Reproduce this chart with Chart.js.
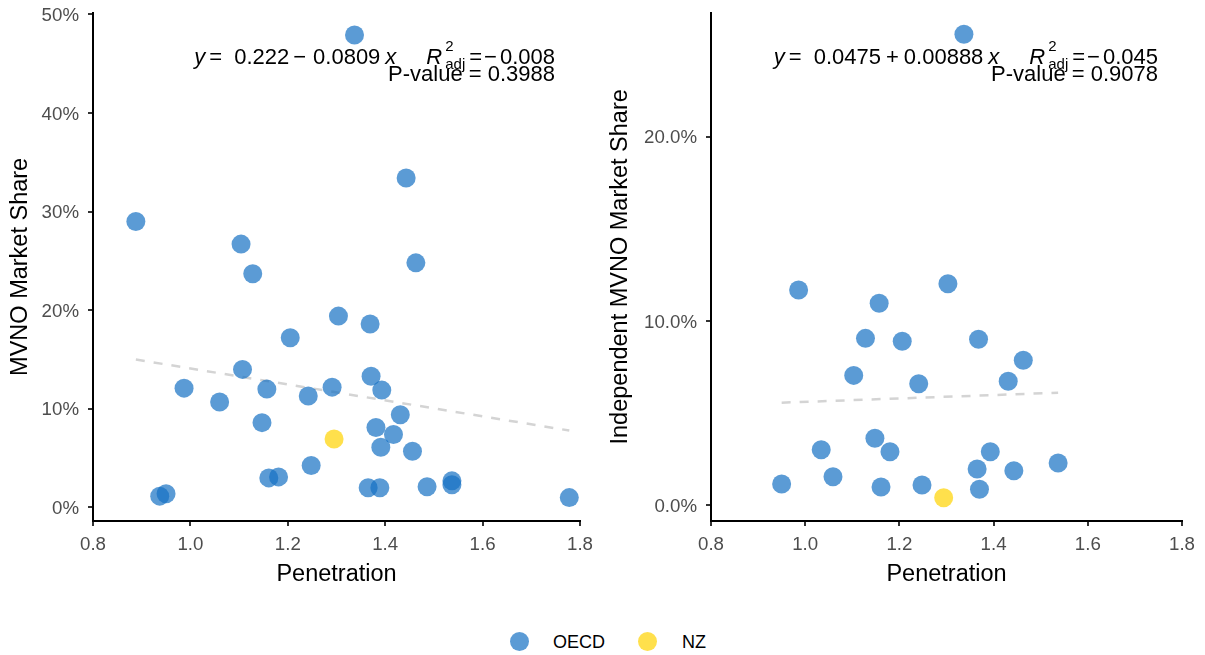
<!DOCTYPE html>
<html><head><meta charset="utf-8">
<script src="https://cdn.jsdelivr.net/npm/chart.js@4.4.1/dist/chart.umd.min.js"></script>
<style>
html,body{margin:0;padding:0;background:#fff;}
#wrap{position:relative;width:1205px;height:655px;overflow:hidden;font-family:"Liberation Sans",Arial,sans-serif;background:#fff;}
canvas{position:absolute;top:0;}
#c1{left:0;} #c2{left:600px;}
.lg-dot{position:absolute;width:19px;height:19px;border-radius:50%;}
.lg-txt{position:absolute;font-size:18px;color:#000;line-height:20px;white-space:nowrap;}
</style></head>
<body>
<div id="wrap">
  <canvas id="c1" width="600" height="600"></canvas>
  <canvas id="c2" width="605" height="600"></canvas>
  <div class="lg-dot" style="left:509.5px;top:631.5px;background:rgba(21,112,195,0.7);"></div>
  <div class="lg-txt" style="left:553px;top:632px;">OECD</div>
  <div class="lg-dot" style="left:637.5px;top:631.5px;background:rgba(255,211,0,0.7);"></div>
  <div class="lg-txt" style="left:682px;top:632px;">NZ</div>
</div>
<script>
// ---------- DATA ----------
const seriesNames = ['OECD', 'NZ'];

// Left panel: MVNO market share vs penetration
const leftOecdX = [0.888,0.937,0.950,0.987,1.060,1.104,1.107,1.128,1.147,1.157,1.161,1.181,1.205,1.242,1.248,1.291,1.304,1.337,1.365,1.369,1.371,1.381,1.389,1.391,1.393,1.417,1.431,1.443,1.456,1.463,1.486,1.537,1.537,1.778];
const leftOecdY = [0.290,0.0115,0.014,0.121,0.107,0.267,0.140,0.237,0.086,0.120,0.030,0.031,0.172,0.113,0.0425,0.122,0.194,0.479,0.020,0.186,0.133,0.081,0.020,0.061,0.119,0.074,0.094,0.334,0.057,0.248,0.021,0.027,0.023,0.0100];
const leftNzX = [1.295];
const leftNzY = [0.0695];
const leftTrendX = [0.888, 1.778];
const leftTrendY = [0.150, 0.078];

// Right panel: independent MVNO market share vs penetration
const rightOecdX = [0.950,0.986,1.034,1.059,1.103,1.128,1.148,1.157,1.161,1.180,1.206,1.241,1.248,1.303,1.337,1.365,1.368,1.370,1.393,1.431,1.443,1.463,1.537];
const rightOecdY = [0.0116,0.1168,0.0302,0.0155,0.0705,0.0906,0.0364,0.1096,0.0099,0.0291,0.0890,0.066,0.011,0.1202,0.2556,0.0197,0.0901,0.0087,0.0291,0.0673,0.0188,0.0787,0.023];
const rightNzX = [1.294];
const rightNzY = [0.0041];
const rightTrendX = [0.950, 1.537];
const rightTrendY = [0.0557, 0.0611];

// Ticks
const xTicks = [0.8, 1.0, 1.2, 1.4, 1.6, 1.8];
const xTickLabels = ['0.8', '1.0', '1.2', '1.4', '1.6', '1.8'];
const leftYTicks = [0, 0.1, 0.2, 0.3, 0.4, 0.5];
const leftYTickLabels = ['0%', '10%', '20%', '30%', '40%', '50%'];
const rightYTicks = [0, 0.1, 0.2];
const rightYTickLabels = ['0.0%', '10.0%', '20.0%'];

// Annotation texts
const leftEq = {intercept:'0.222', sign:'\u2212', slope:'0.0809', r2:'\u22120.008', p:'P-value = 0.3988'};
const rightEq = {intercept:'0.0475', sign:'+', slope:'0.00888', r2:'\u22120.045', p:'P-value = 0.9078'};

// ---------- STYLE ----------
const FONT = '"Liberation Sans", Arial, Helvetica, sans-serif';
const BLUE = 'rgba(21,112,195,0.7)';
const YELLOW = 'rgba(255,211,0,0.7)';

const eqPlugin = {
  id: 'eqText',
  afterDatasetsDraw(chart, args, o) {
    if (!o || !o.eq) return;
    const ctx = chart.ctx;
    const e = o.eq;
    ctx.save();
    ctx.fillStyle = '#000';
    ctx.textBaseline = 'alphabetic';
    ctx.textAlign = 'left';
    const N = '22px ' + FONT, I = 'italic 22px ' + FONT, S = '15px ' + FONT;
    const plus = e.sign === '+';
    const pieces = [
      {t:'y', f:I}, {g:4}, {t:'=', f:N}, {g:12}, {t:e.intercept, f:N},
      {g:plus ? 5 : 4}, {t:e.sign, f:N}, {g:plus ? 5 : 7},
      {t:e.slope, f:N}, {g:5}, {t:'x', f:I}, {g:30}, {t:'R', f:I}, {g:3},
      {ss:['2','adj']}, {g:4}, {t:'=', f:N}, {g:2}, {t:e.r2.charAt(0), f:N}, {g:3}, {t:e.r2.slice(1), f:N}
    ];
    let total = 0;
    pieces.forEach(p => {
      if (p.g !== undefined) { p.w = p.g; }
      else if (p.ss) { ctx.font = S; p.w = Math.max(ctx.measureText(p.ss[0]).width, ctx.measureText(p.ss[1]).width); }
      else { ctx.font = p.f; p.w = ctx.measureText(p.t).width; }
      total += p.w;
    });
    let x = o.right - total;
    const base = 63.5;
    pieces.forEach(p => {
      if (p.ss) {
        ctx.font = S;
        ctx.fillText(p.ss[0], x, 50.5);
        ctx.fillText(p.ss[1], x, 68.5);
      } else if (p.t !== undefined) {
        ctx.font = p.f;
        ctx.fillText(p.t, x, base);
      }
      x += p.w;
    });
    ctx.font = N;
    ctx.textAlign = 'right';
    ctx.fillText(e.p, o.right, 80.5);
    ctx.restore();
  }
};

function pts(xs, ys) { return xs.map((x, i) => ({x: x, y: ys[i]})); }

function makeChart(id, cfg) {
  return new Chart(document.getElementById(id), {
    type: 'scatter',
    data: {
      datasets: [
        {type:'line', label:'trend', data: pts(cfg.trendX, cfg.trendY), borderColor:'#d4d4d4', borderWidth:2.5,
         borderDash:[9,9], pointRadius:0, fill:false, order:3, clip:false},
        {label: seriesNames[0], data: pts(cfg.oecdX, cfg.oecdY), backgroundColor: BLUE, borderWidth:0,
         pointRadius:9.5, pointHoverRadius:9.5, order:2, clip:false},
        {label: seriesNames[1], data: pts(cfg.nzX, cfg.nzY), backgroundColor: YELLOW, borderWidth:0,
         pointRadius:9.5, pointHoverRadius:9.5, order:1, clip:false}
      ]
    },
    options: {
      responsive:false, animation:false, events:[],
      layout: {padding: {top:12.7, right: cfg.padRight, left:0, bottom:0}},
      plugins: {legend:{display:false}, tooltip:{enabled:false}, eqText: {eq: cfg.eq, right: cfg.eqRight}},
      scales: {
        x: {
          type:'linear', position:'bottom', min:0.8, max:1.8,
          afterBuildTicks: s => { s.ticks = xTicks.map(v => ({value:v})); },
          afterFit: s => { s.height = 79; s.paddingLeft = 0; s.paddingRight = 0; },
          ticks: {callback: (v, i) => xTickLabels[i], color:'#4d4d4d', font:{family:FONT, size:18.7}, padding:8, maxRotation:0, autoSkip:false},
          grid: {drawOnChartArea:false, drawTicks:true, tickLength:5, color:'#333', lineWidth:2},
          border: {display:true, color:'#000', width:2},
          title: {display:true, text:'Penetration', color:'#000', font:{family:FONT, size:23.5}, padding:{top:0, bottom:11.7}}
        },
        y: {
          type:'linear', position:'left', min: cfg.yMin, max: cfg.yMax,
          afterBuildTicks: s => { s.ticks = cfg.yTicks.map(v => ({value:v})); },
          afterFit: s => { s.width = cfg.yWidth; s.paddingTop = 0; s.paddingBottom = 0; },
          ticks: {callback: (v, i) => cfg.yLabels[i], color:'#4d4d4d', font:{family:FONT, size:18.7}, padding:9, labelOffset:1.5, autoSkip:false},
          grid: {drawOnChartArea:false, drawTicks:true, tickLength:5, color:'#333', lineWidth:2},
          border: {display:true, color:'#000', width:2},
          title: {display:true, text: cfg.yTitle, color:'#000', font:{family:FONT, size:23.5}, padding:{top:6, bottom:0}}
        }
      }
    },
    plugins: [eqPlugin]
  });
}

makeChart('c1', {
  oecdX:leftOecdX, oecdY:leftOecdY, nzX:leftNzX, nzY:leftNzY, trendX:leftTrendX, trendY:leftTrendY,
  yMin:-0.0137, yMax:0.5016, yTicks:leftYTicks, yLabels:leftYTickLabels, yTitle:'MVNO Market Share',
  yWidth:93, padRight:20, eq:leftEq, eqRight:555
});
makeChart('c2', {
  oecdX:rightOecdX, oecdY:rightOecdY, nzX:rightNzX, nzY:rightNzY, trendX:rightTrendX, trendY:rightTrendY,
  yMin:-0.0085, yMax:0.2673, yTicks:rightYTicks, yLabels:rightYTickLabels, yTitle:'Independent MVNO Market Share',
  yWidth:111, padRight:23, eq:rightEq, eqRight:558
});
</script>
</body></html>
